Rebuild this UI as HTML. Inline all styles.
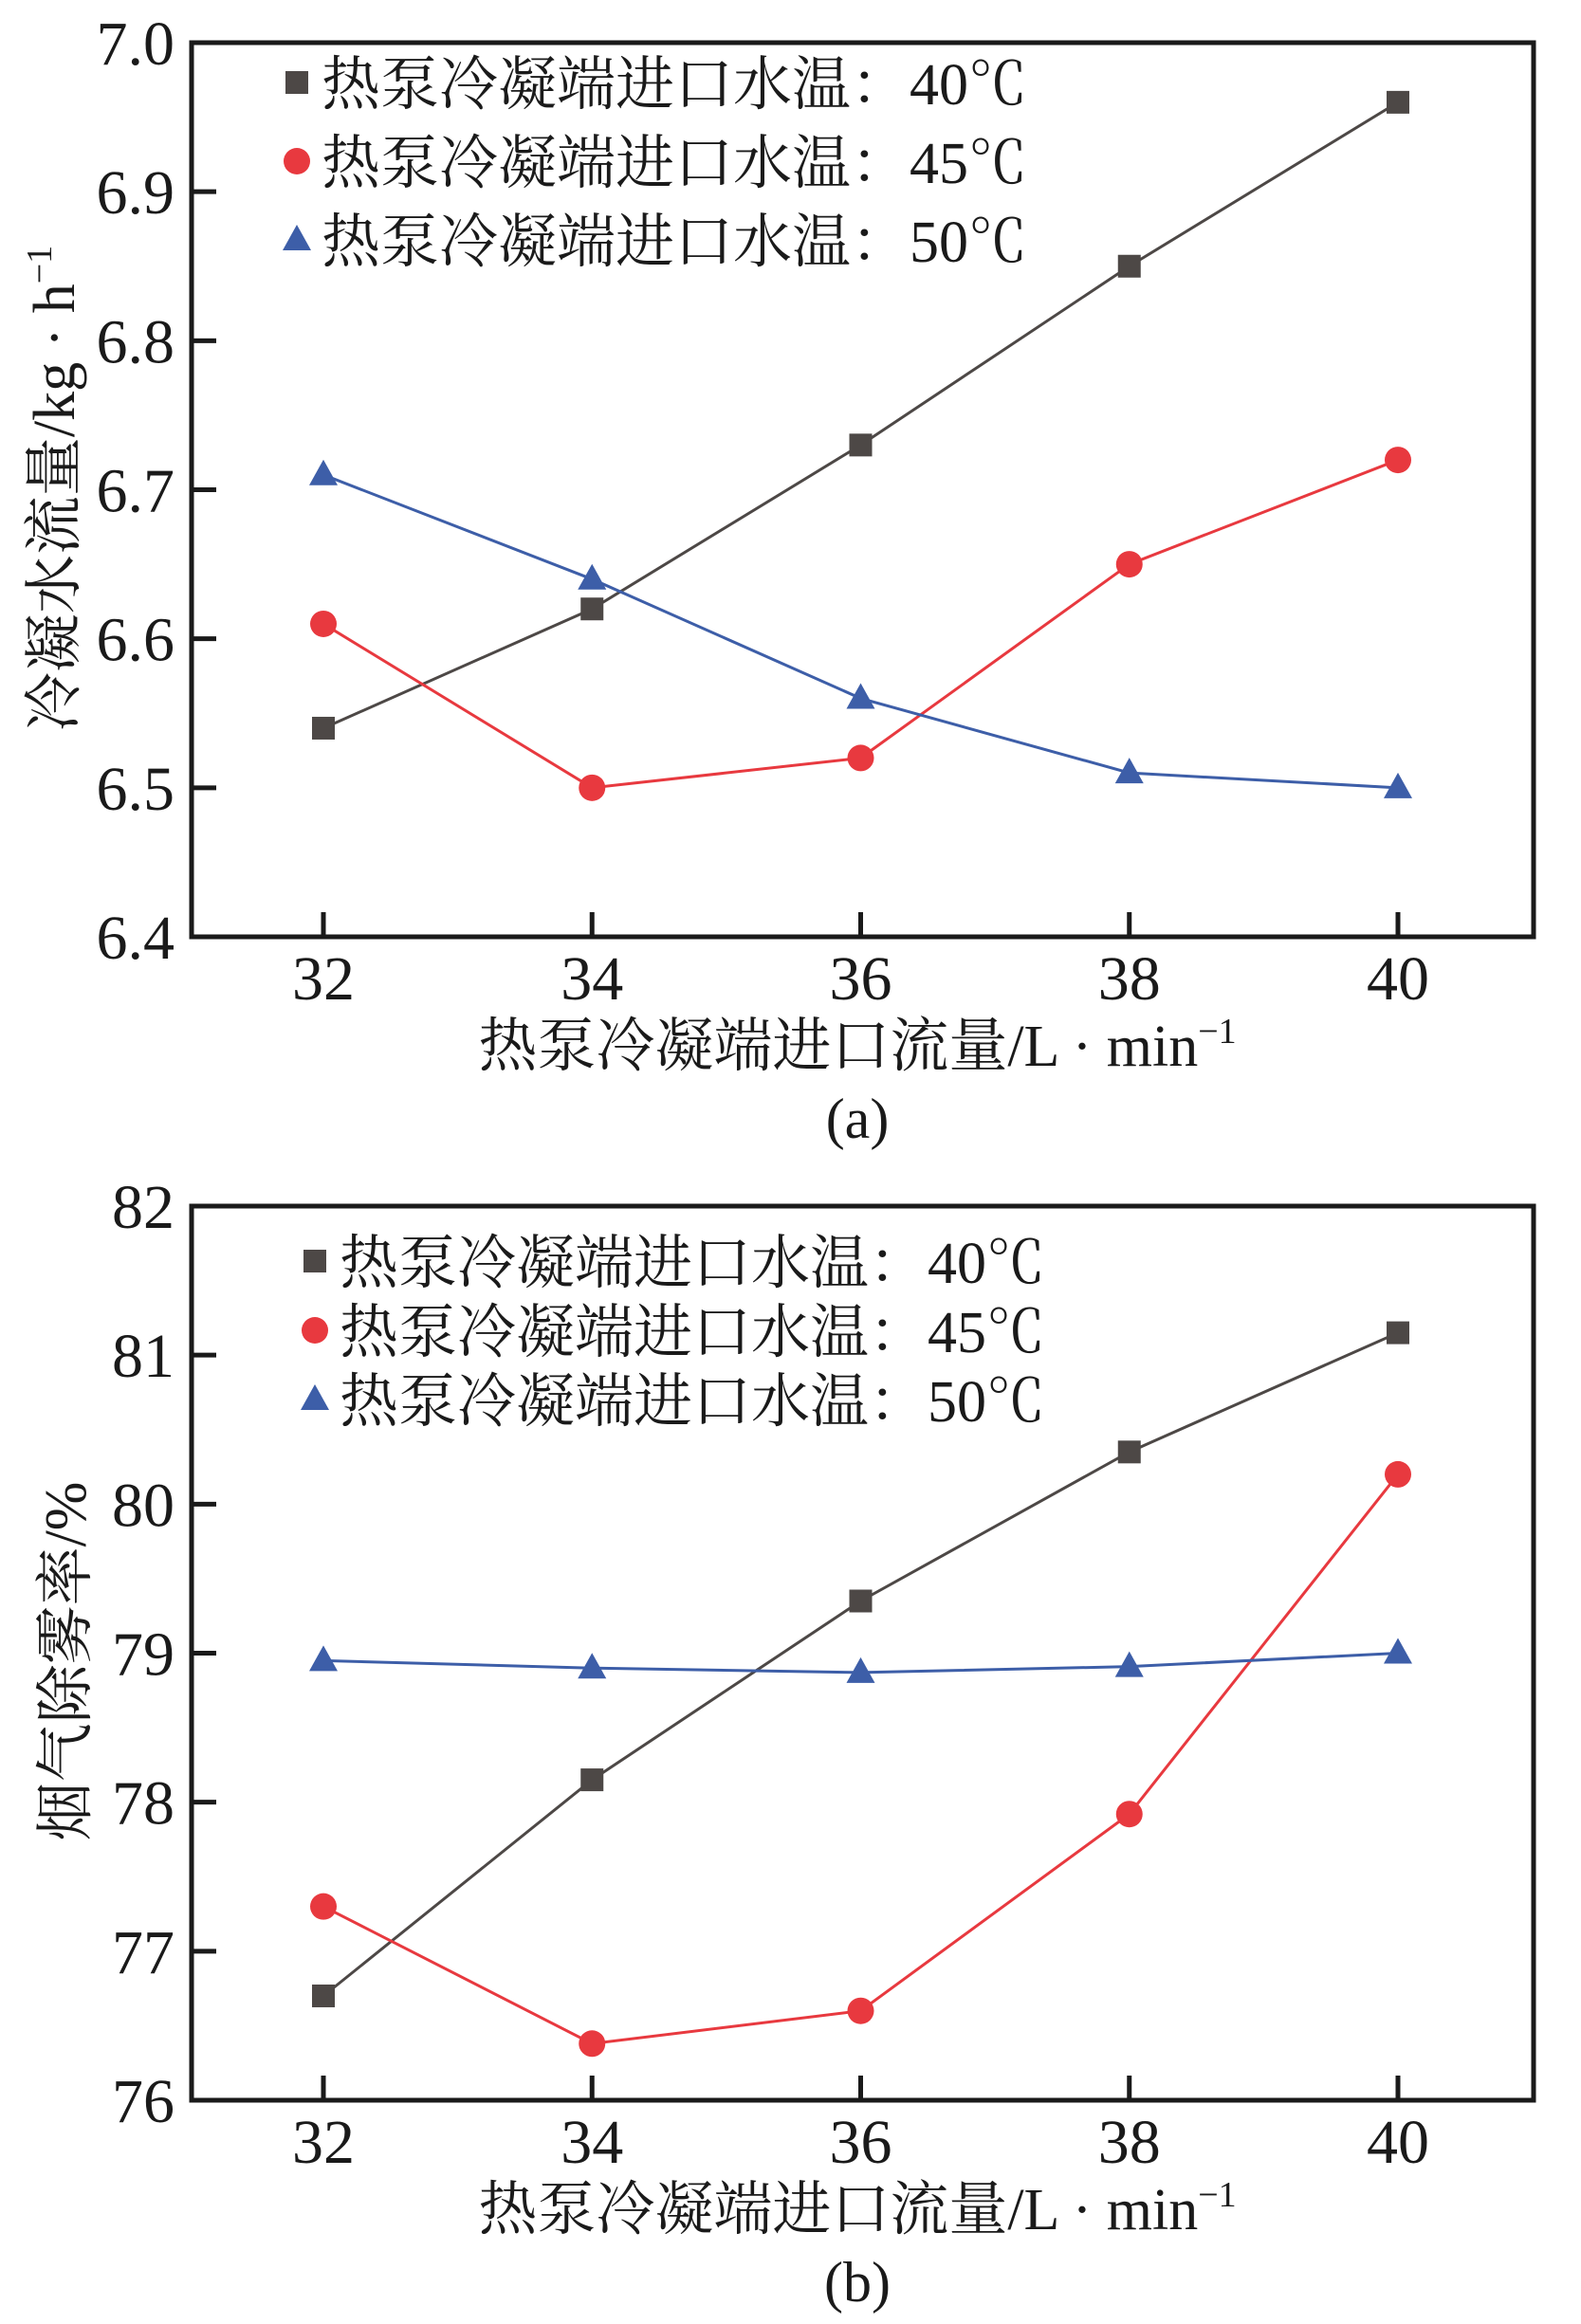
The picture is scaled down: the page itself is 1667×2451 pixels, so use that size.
<!DOCTYPE html>
<html><head><meta charset="utf-8"><style>
html,body{margin:0;padding:0;background:#fff;}
svg{display:block;}
text{font-family:"Liberation Serif","Noto Serif CJK SC","Noto Sans CJK SC",serif;fill:#1a1a1a;}
</style></head><body>
<svg id="chart" width="1667" height="2451" viewBox="0 0 1667 2451" xmlns="http://www.w3.org/2000/svg"></svg>
<script>
const categories = [32, 34, 36, 38, 40];
const xTickLabels = ["32", "34", "36", "38", "40"];
const seriesNames = ["热泵冷凝端进口水温：40℃", "热泵冷凝端进口水温：45℃", "热泵冷凝端进口水温：50℃"];
const a40 = [6.54, 6.62, 6.73, 6.85, 6.96];
const a45 = [6.61, 6.50, 6.52, 6.65, 6.72];
const a50 = [6.71, 6.64, 6.56, 6.51, 6.50];
const aYTicks = [6.4, 6.5, 6.6, 6.7, 6.8, 6.9, 7.0];
const aYTickLabels = ["6.4", "6.5", "6.6", "6.7", "6.8", "6.9", "7.0"];
const b40 = [76.7, 78.15, 79.35, 80.35, 81.15];
const b45 = [77.3, 76.38, 76.6, 77.92, 80.2];
const b50 = [78.95, 78.9, 78.87, 78.91, 79.0];
const bYTicks = [76, 77, 78, 79, 80, 81, 82];
const bYTickLabels = ["76", "77", "78", "79", "80", "81", "82"];

const NS = "http://www.w3.org/2000/svg";
const svg = document.getElementById("chart");
function mk(tag, attrs, parent, txt) {
  const e = document.createElementNS(NS, tag);
  for (const k in attrs) e.setAttribute(k, attrs[k]);
  if (txt !== undefined) e.textContent = txt;
  (parent || svg).appendChild(e);
  return e;
}
const colors = ["#4d4846", "#e8393f", "#3d5ea8"];
const shapes = ["square", "circle", "triangle"];

function marker(g, shape, cx, cy, color, name) {
  let m;
  if (shape === "square") m = mk("rect", {x: cx - 12, y: cy - 12, width: 24, height: 24, fill: color}, g);
  else if (shape === "circle") m = mk("circle", {cx: cx, cy: cy, r: 14, fill: color}, g);
  else m = mk("polygon", {points: `${cx},${cy - 16} ${cx + 15},${cy + 11} ${cx - 15},${cy + 11}`, fill: color}, g);
  
  
  return m;
}

function drawChart(opt) {
  const L = 202, R = 1617, T = opt.top, B = opt.top + 943;
  const x0 = 341, x1 = 1474;
  const xs = v => x0 + (v - categories[0]) / (categories[categories.length - 1] - categories[0]) * (x1 - x0);
  const ymin = opt.yTicks[0], ymax = opt.yTicks[opt.yTicks.length - 1];
  const ys = v => B - (v - ymin) / (ymax - ymin) * (B - T);
  const g = mk("g", {});
  
  
  opt.series.forEach((vals, si) => {
    const sg = mk("g", {}, g);
    
    
    const pts = vals.map((v, i) => xs(categories[i]) + "," + ys(v)).join(" ");
    const pl = mk("polyline", {points: pts, fill: "none", stroke: colors[si], "stroke-width": 3}, sg);
    
    
    vals.forEach((v, i) => marker(sg, shapes[si], xs(categories[i]), ys(v), colors[si], 'data-point'));
  });
  const fr = mk("rect", {x: L, y: T, width: R - L, height: B - T, fill: "none", stroke: "#1a1a1a", "stroke-width": 5}, g);
  
  
  opt.yTicks.forEach((t, i) => {
    const y = ys(t);
    if (i > 0 && i < opt.yTicks.length - 1) {
      const tl = mk("line", {x1: L, x2: L + 26, y1: y, y2: y, stroke: "#1a1a1a", "stroke-width": 5}, g);
      
      
    }
    const tx = mk("text", {x: 184, y: y + 23, "text-anchor": "end", "font-size": 66}, g, opt.yLabels[i]);
    
    
  });
  categories.forEach((c, i) => {
    const x = xs(c);
    const tl = mk("line", {x1: x, x2: x, y1: B, y2: B - 26, stroke: "#1a1a1a", "stroke-width": 5}, g);
    
    
    const tx = mk("text", {x: x, y: B + 66, "text-anchor": "middle", "font-size": 66}, g, xTickLabels[i]);
    
    
  });
  const xt = mk("text", {x: 904, y: B + 136, "text-anchor": "middle", "font-size": 62}, g);
  
  
  mk("tspan", {}, xt, "热泵冷凝端进口流量/L · min");
  mk("tspan", {dy: -24, "font-size": 38}, xt, "−1");
  const cap = mk("text", {x: 904, y: B + 212, "text-anchor": "middle", "font-size": 60}, g, opt.caption);
  
  
  const yt = mk("text", {x: 0, y: 0, "text-anchor": "middle", "font-size": 62, transform: `translate(${opt.ytx},${T + opt.yty}) rotate(-90)`}, g);
  
  
  mk("tspan", {}, yt, opt.ytitle);
  if (opt.ysup) mk("tspan", {dy: -24, "font-size": 38}, yt, opt.ysup);
  const lg = mk("g", {}, g);
  
  
  seriesNames.forEach((n, si) => {
    const ly = T + opt.legY + si * opt.legStep;
    const eg = mk("g", {}, lg);
    
    
    marker(eg, shapes[si], opt.legX, ly, colors[si], 'legend-marker');
    const t = mk("text", {x: opt.legX + 26, y: ly + 23, "font-size": 62}, eg, n);
    
    
  });
}

drawChart({name: 'chart-a', tag: 'a', top: 45, yTicks: aYTicks, yLabels: aYTickLabels, series: [a40, a45, a50],
  caption: "(a)", ytitle: "冷凝水流量/kg · h", ysup: "−1", ytx: 78, yty: 470,
  legX: 313, legY: 42, legStep: 83});
drawChart({name: 'chart-b', tag: 'b', top: 1272, yTicks: bYTicks, yLabels: bYTickLabels, series: [b40, b45, b50],
  caption: "(b)", ytitle: "烟气除雾率/%", ysup: null, ytx: 90, yty: 480,
  legX: 332, legY: 58, legStep: 73});
</script>
</body></html>
